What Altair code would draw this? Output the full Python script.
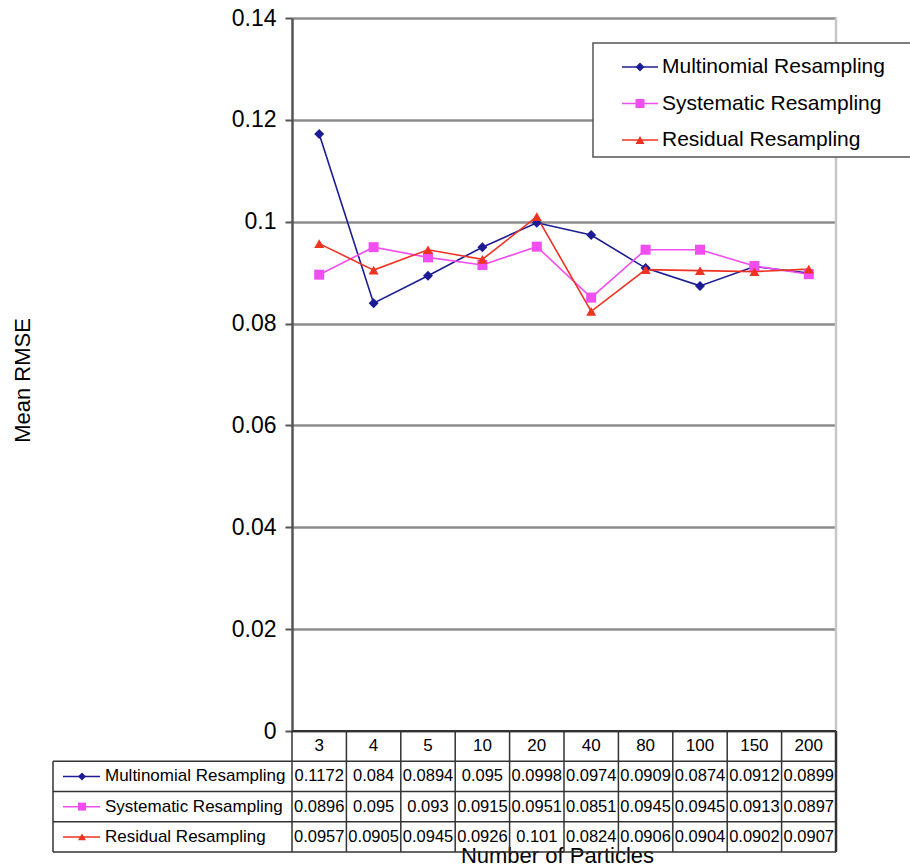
import altair as alt
import pandas as pd

# ---- data -------------------------------------------------------------
CATEGORIES = ["3", "4", "5", "10", "20", "40", "80", "100", "150", "200"]
SERIES = ["Multinomial Resampling", "Systematic Resampling", "Residual Resampling"]
MULTINOMIAL = [0.1172, 0.084, 0.0894, 0.095, 0.0998, 0.0974, 0.0909, 0.0874, 0.0912, 0.0899]
SYSTEMATIC = [0.0896, 0.095, 0.093, 0.0915, 0.0951, 0.0851, 0.0945, 0.0945, 0.0913, 0.0897]
RESIDUAL = [0.0957, 0.0905, 0.0945, 0.0926, 0.101, 0.0824, 0.0906, 0.0904, 0.0902, 0.0907]
Y_TICKS = [0, 0.02, 0.04, 0.06, 0.08, 0.1, 0.12, 0.14]

# ---- styling ----------------------------------------------------------
FONT = "Liberation Sans"
COLORS = ["#1c1c94", "#f04ef0", "#ee3322"]
SHAPES = ["diamond", "square", "triangle-up"]
W, H = 544, 713            # plot area
LABEL_COL = 239            # width of the data-table label column
TABLE_LINE = "#333333"

rows = []
for r, (name, vals) in enumerate(zip(SERIES, [MULTINOMIAL, SYSTEMATIC, RESIDUAL]), start=1):
    for c, v in zip(CATEGORIES, vals):
        rows.append({"cat": c, "series": name, "value": v, "text": f"{v:g}", "row": r + 0.5})
df = pd.DataFrame(rows)
cats_df = pd.DataFrame({"cat": CATEGORIES, "row": 0.5})
series_df = pd.DataFrame({"series": SERIES, "row": [r + 0.5 for r in range(1, 4)]})

x_scale = alt.Scale(type="band", domain=CATEGORIES, paddingInner=0, paddingOuter=0)
x_axis = alt.Axis(title="Number of Particles", labels=False, ticks=False, domain=False,
                  grid=False, titleFont=FONT, titleFontSize=22, titleFontWeight="normal",
                  titleColor="black", titleX=265, titleY=131, titleBaseline="alphabetic")


def xcat(**kw):
    return alt.X("cat:N", scale=x_scale, axis=x_axis, **kw)


color = alt.Color("series:N", scale=alt.Scale(domain=SERIES, range=COLORS), legend=None)
shape = alt.Shape("series:N", scale=alt.Scale(domain=SERIES, range=SHAPES), legend=None)

# ---- line plot --------------------------------------------------------
y_axis = alt.Axis(values=Y_TICKS, format="~g", title="Mean RMSE", titleFont=FONT,
                  titleFontSize=22, titleFontWeight="normal", titleColor="black",
                  titleAngle=-90, titleX=-270, titleY=362, titleAlign="center",
                  titleBaseline="middle", labelFont=FONT, labelFontSize=23,
                  labelColor="black", labelPadding=9, tickSize=7, tickColor="#555555",
                  tickWidth=2, domainColor="#555555", domainWidth=2.5, grid=True,
                  gridColor="#8c8c8c", gridWidth=2.5)
y_val = alt.Y("value:Q", scale=alt.Scale(domain=[0, 0.14], nice=False), axis=y_axis)

lines = alt.Chart(df).mark_line(strokeWidth=1.6).encode(x=xcat(), y=y_val, color=color)
points = alt.Chart(df).mark_point(filled=True, opacity=1, size=100).encode(
    x=xcat(), y=y_val, color=color, shape=shape)

border_df = pd.DataFrame({"cat": [CATEGORIES[-1]], "value": [0.0], "top": [0.14]})
right_border = alt.Chart(border_df).mark_rule(color="#c8c8c8", strokeWidth=2.5).encode(
    x=xcat(bandPosition=1), y=y_val, y2="top:Q")

plot = alt.layer(right_border, lines, points)

# ---- data table -------------------------------------------------------
row_scale = alt.Scale(domain=[0, 4], range=[H, H + 121], nice=False, zero=False)
y_row = alt.Y("row:Q", scale=row_scale, axis=None)

vlines_df = pd.DataFrame({"cat": CATEGORIES, "row": 0.0, "end": 4.0})
vlines = alt.Chart(vlines_df).mark_rule(color=TABLE_LINE, strokeWidth=1.5).encode(
    x=xcat(bandPosition=0), y=y_row, y2="end:Q")
vlast = alt.Chart(vlines_df.tail(1)).mark_rule(color=TABLE_LINE, strokeWidth=2.5).encode(
    x=xcat(bandPosition=1), y=y_row, y2="end:Q")

hlines = alt.Chart(pd.DataFrame({"row": [1.0, 2.0, 3.0, 4.0]})).mark_rule(
    color=TABLE_LINE, strokeWidth=1.5).encode(
    x=alt.value(-LABEL_COL), x2=alt.value(W), y=y_row)
top_line = alt.Chart(pd.DataFrame({"row": [0.0]})).mark_rule(
    color=TABLE_LINE, strokeWidth=2).encode(x=alt.value(0), x2=alt.value(W), y=y_row)
left_line = alt.Chart(pd.DataFrame({"row": [1.0], "end": [4.0]})).mark_rule(
    color=TABLE_LINE, strokeWidth=1.5).encode(
    x=alt.value(-LABEL_COL), y=y_row, y2="end:Q")

header = alt.Chart(cats_df).mark_text(font=FONT, fontSize=17, color="black",
                                      baseline="middle").encode(
    x=xcat(), y=y_row, text="cat:N")
values = alt.Chart(df).mark_text(font=FONT, fontSize=16.5, color="black",
                                 baseline="middle").encode(
    x=xcat(), y=y_row, text="text:N")

row_labels = alt.Chart(series_df).mark_text(font=FONT, fontSize=17, color="black",
                                            align="left", baseline="middle").encode(
    x=alt.value(-187), y=y_row, text="series:N")
row_keys = alt.Chart(series_df).mark_rule(strokeWidth=1.5).encode(
    x=alt.value(-229), x2=alt.value(-192), y=y_row, color=color)
row_marks = alt.Chart(series_df).mark_point(filled=True, opacity=1, size=64).encode(
    x=alt.value(-210), y=y_row, color=color, shape=shape)

table = alt.layer(vlines, vlast, hlines, top_line, left_line, header, values,
                  row_labels, row_keys, row_marks)

# ---- legend box -------------------------------------------------------
y_leg = alt.Y("series:N", scale=alt.Scale(type="point", domain=SERIES, range=[49, 122],
                                          padding=0), axis=None)
leg_box = alt.Chart(pd.DataFrame({"series": [SERIES[0]]})).mark_rect(
    fill="white", stroke="#555555", strokeWidth=1.5).encode(
    x=alt.value(301), x2=alt.value(640), y=alt.value(25), y2=alt.value(139))
leg_keys = alt.Chart(series_df).mark_rule(strokeWidth=1.6).encode(
    x=alt.value(330), x2=alt.value(366), y=y_leg, color=color)
leg_marks = alt.Chart(series_df).mark_point(filled=True, opacity=1, size=81).encode(
    x=alt.value(348), y=y_leg, color=color, shape=shape)
leg_text = alt.Chart(series_df).mark_text(font=FONT, fontSize=21, color="black",
                                          align="left", baseline="middle").encode(
    x=alt.value(370), y=y_leg, text="series:N")
legend = alt.layer(leg_box, leg_keys, leg_marks, leg_text)

chart = alt.layer(plot, table, legend).resolve_scale(y="independent").properties(
    width=W, height=H,
    autosize=alt.AutoSizeParams(type="none"),
    padding={"left": 292, "top": 18, "right": 74, "bottom": 136},
    background="white",
).configure_view(stroke=None)

chart.save("out.html", embed_options={"renderer": "svg", "actions": False})
